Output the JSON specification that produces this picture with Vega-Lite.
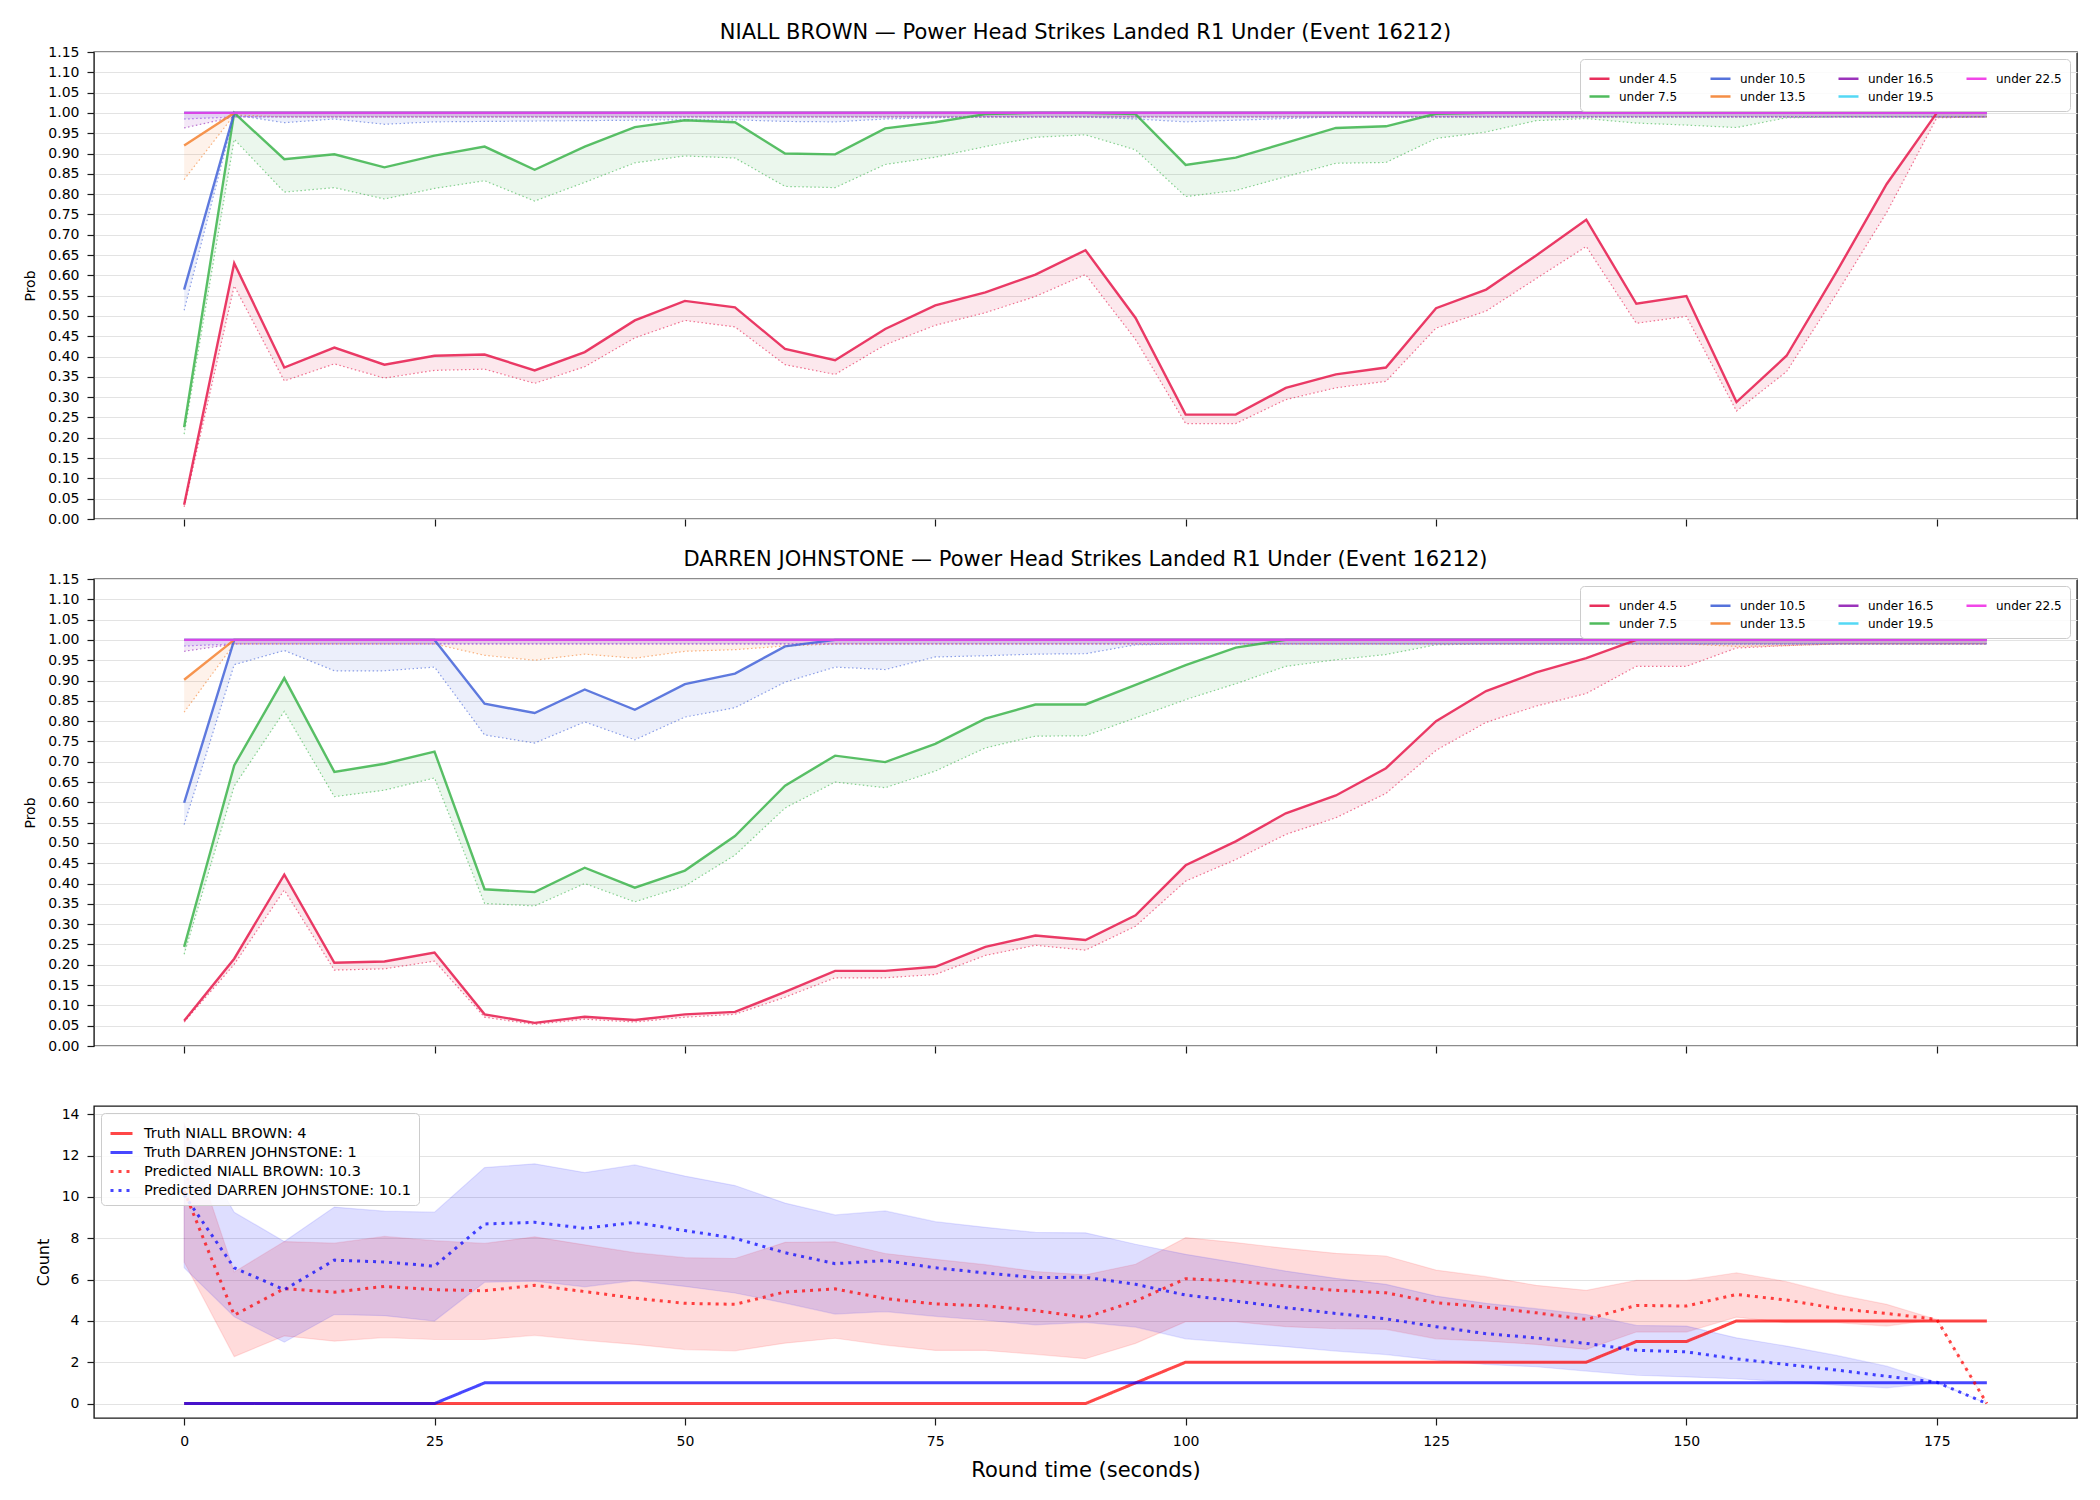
{
  "$schema": "https://vega.github.io/schema/vega-lite/v6.json",
  "background": "white",
  "padding": {"left": 23, "top": 21, "right": 10, "bottom": 10},
  "bounds": "flush",
  "spacing": 60,
  "resolve": {
    "scale": {"color": "independent", "strokeDash": "independent", "y": "independent", "x": "independent"},
    "legend": {"color": "independent", "strokeDash": "independent"}
  },
  "config": {
    "font": "DejaVu Sans",
    "view": {"stroke": "#1a1a1a", "strokeWidth": 1.4},
    "axis": {
      "domain": false,
      "tickColor": "#1a1a1a",
      "tickSize": 7,
      "tickWidth": 1.2,
      "labelColor": "#000000",
      "labelFont": "DejaVu Sans",
      "labelFontSize": 14,
      "labelFlush": false,
      "labelOverlap": false,
      "labelBound": false,
      "titleFont": "DejaVu Sans",
      "titleFontWeight": "normal",
      "titleColor": "#000000",
      "gridColor": "#e3e3e3",
      "gridWidth": 1
    },
    "title": {"font": "DejaVu Sans", "fontSize": 21, "fontWeight": "normal", "color": "#000000", "anchor": "middle", "frame": "group", "baseline": "alphabetic", "offset": 2},
    "legend": {"labelFont": "DejaVu Sans", "labelColor": "#000000", "title": null}
  },
  "datasets": {
    "probs": [
      {"p":"NB","k":"under 4.5","t":0,"hi":0.035,"lo":0.03},
      {"p":"NB","k":"under 4.5","t":5,"hi":0.63,"lo":0.574},
      {"p":"NB","k":"under 4.5","t":10,"hi":0.373,"lo":0.34},
      {"p":"NB","k":"under 4.5","t":15,"hi":0.422,"lo":0.382},
      {"p":"NB","k":"under 4.5","t":20,"hi":0.38,"lo":0.347},
      {"p":"NB","k":"under 4.5","t":25,"hi":0.402,"lo":0.366},
      {"p":"NB","k":"under 4.5","t":30,"hi":0.405,"lo":0.369},
      {"p":"NB","k":"under 4.5","t":35,"hi":0.366,"lo":0.334},
      {"p":"NB","k":"under 4.5","t":40,"hi":0.411,"lo":0.375},
      {"p":"NB","k":"under 4.5","t":45,"hi":0.489,"lo":0.446},
      {"p":"NB","k":"under 4.5","t":50,"hi":0.537,"lo":0.489},
      {"p":"NB","k":"under 4.5","t":55,"hi":0.521,"lo":0.473},
      {"p":"NB","k":"under 4.5","t":60,"hi":0.419,"lo":0.38},
      {"p":"NB","k":"under 4.5","t":65,"hi":0.391,"lo":0.356},
      {"p":"NB","k":"under 4.5","t":70,"hi":0.468,"lo":0.429},
      {"p":"NB","k":"under 4.5","t":75,"hi":0.526,"lo":0.477},
      {"p":"NB","k":"under 4.5","t":80,"hi":0.558,"lo":0.508},
      {"p":"NB","k":"under 4.5","t":85,"hi":0.602,"lo":0.548},
      {"p":"NB","k":"under 4.5","t":90,"hi":0.662,"lo":0.602},
      {"p":"NB","k":"under 4.5","t":95,"hi":0.495,"lo":0.442},
      {"p":"NB","k":"under 4.5","t":100,"hi":0.257,"lo":0.235},
      {"p":"NB","k":"under 4.5","t":105,"hi":0.257,"lo":0.235},
      {"p":"NB","k":"under 4.5","t":110,"hi":0.323,"lo":0.294},
      {"p":"NB","k":"under 4.5","t":115,"hi":0.356,"lo":0.323},
      {"p":"NB","k":"under 4.5","t":120,"hi":0.373,"lo":0.339},
      {"p":"NB","k":"under 4.5","t":125,"hi":0.519,"lo":0.47},
      {"p":"NB","k":"under 4.5","t":130,"hi":0.565,"lo":0.512},
      {"p":"NB","k":"under 4.5","t":135,"hi":0.649,"lo":0.592},
      {"p":"NB","k":"under 4.5","t":140,"hi":0.737,"lo":0.671},
      {"p":"NB","k":"under 4.5","t":145,"hi":0.53,"lo":0.482},
      {"p":"NB","k":"under 4.5","t":150,"hi":0.549,"lo":0.499},
      {"p":"NB","k":"under 4.5","t":155,"hi":0.288,"lo":0.266},
      {"p":"NB","k":"under 4.5","t":160,"hi":0.402,"lo":0.363},
      {"p":"NB","k":"under 4.5","t":165,"hi":0.609,"lo":0.555},
      {"p":"NB","k":"under 4.5","t":170,"hi":0.825,"lo":0.755},
      {"p":"NB","k":"under 4.5","t":175,"hi":1,"lo":0.988},
      {"p":"NB","k":"under 4.5","t":180,"hi":1,"lo":0.99},
      {"p":"NB","k":"under 7.5","t":0,"hi":0.226,"lo":0.209},
      {"p":"NB","k":"under 7.5","t":5,"hi":1,"lo":0.935},
      {"p":"NB","k":"under 7.5","t":10,"hi":0.886,"lo":0.805},
      {"p":"NB","k":"under 7.5","t":15,"hi":0.898,"lo":0.816},
      {"p":"NB","k":"under 7.5","t":20,"hi":0.866,"lo":0.788},
      {"p":"NB","k":"under 7.5","t":25,"hi":0.895,"lo":0.814},
      {"p":"NB","k":"under 7.5","t":30,"hi":0.917,"lo":0.833},
      {"p":"NB","k":"under 7.5","t":35,"hi":0.86,"lo":0.783},
      {"p":"NB","k":"under 7.5","t":40,"hi":0.917,"lo":0.829},
      {"p":"NB","k":"under 7.5","t":45,"hi":0.965,"lo":0.877},
      {"p":"NB","k":"under 7.5","t":50,"hi":0.982,"lo":0.894},
      {"p":"NB","k":"under 7.5","t":55,"hi":0.977,"lo":0.889},
      {"p":"NB","k":"under 7.5","t":60,"hi":0.9,"lo":0.819},
      {"p":"NB","k":"under 7.5","t":65,"hi":0.898,"lo":0.816},
      {"p":"NB","k":"under 7.5","t":70,"hi":0.962,"lo":0.873},
      {"p":"NB","k":"under 7.5","t":75,"hi":0.977,"lo":0.891},
      {"p":"NB","k":"under 7.5","t":80,"hi":0.997,"lo":0.917},
      {"p":"NB","k":"under 7.5","t":85,"hi":1,"lo":0.94},
      {"p":"NB","k":"under 7.5","t":90,"hi":1,"lo":0.946},
      {"p":"NB","k":"under 7.5","t":95,"hi":0.997,"lo":0.909},
      {"p":"NB","k":"under 7.5","t":100,"hi":0.872,"lo":0.794},
      {"p":"NB","k":"under 7.5","t":105,"hi":0.89,"lo":0.809},
      {"p":"NB","k":"under 7.5","t":110,"hi":0.926,"lo":0.843},
      {"p":"NB","k":"under 7.5","t":115,"hi":0.963,"lo":0.876},
      {"p":"NB","k":"under 7.5","t":120,"hi":0.967,"lo":0.878},
      {"p":"NB","k":"under 7.5","t":125,"hi":0.998,"lo":0.937},
      {"p":"NB","k":"under 7.5","t":130,"hi":1,"lo":0.953},
      {"p":"NB","k":"under 7.5","t":135,"hi":1,"lo":0.981},
      {"p":"NB","k":"under 7.5","t":140,"hi":1,"lo":0.986},
      {"p":"NB","k":"under 7.5","t":145,"hi":1,"lo":0.975},
      {"p":"NB","k":"under 7.5","t":150,"hi":1,"lo":0.97},
      {"p":"NB","k":"under 7.5","t":155,"hi":1,"lo":0.964},
      {"p":"NB","k":"under 7.5","t":160,"hi":1,"lo":0.988},
      {"p":"NB","k":"under 7.5","t":165,"hi":1,"lo":0.99},
      {"p":"NB","k":"under 7.5","t":170,"hi":1,"lo":0.99},
      {"p":"NB","k":"under 7.5","t":175,"hi":1,"lo":0.99},
      {"p":"NB","k":"under 7.5","t":180,"hi":1,"lo":0.99},
      {"p":"NB","k":"under 10.5","t":0,"hi":0.565,"lo":0.514},
      {"p":"NB","k":"under 10.5","t":5,"hi":1,"lo":0.995},
      {"p":"NB","k":"under 10.5","t":10,"hi":1,"lo":0.976},
      {"p":"NB","k":"under 10.5","t":15,"hi":1,"lo":0.985},
      {"p":"NB","k":"under 10.5","t":20,"hi":1,"lo":0.972},
      {"p":"NB","k":"under 10.5","t":25,"hi":1,"lo":0.978},
      {"p":"NB","k":"under 10.5","t":30,"hi":1,"lo":0.979},
      {"p":"NB","k":"under 10.5","t":35,"hi":1,"lo":0.98},
      {"p":"NB","k":"under 10.5","t":40,"hi":1,"lo":0.981},
      {"p":"NB","k":"under 10.5","t":45,"hi":1,"lo":0.982},
      {"p":"NB","k":"under 10.5","t":50,"hi":1,"lo":0.983},
      {"p":"NB","k":"under 10.5","t":55,"hi":1,"lo":0.983},
      {"p":"NB","k":"under 10.5","t":60,"hi":1,"lo":0.979},
      {"p":"NB","k":"under 10.5","t":65,"hi":1,"lo":0.978},
      {"p":"NB","k":"under 10.5","t":70,"hi":1,"lo":0.985},
      {"p":"NB","k":"under 10.5","t":75,"hi":1,"lo":0.988},
      {"p":"NB","k":"under 10.5","t":80,"hi":1,"lo":0.99},
      {"p":"NB","k":"under 10.5","t":85,"hi":1,"lo":0.99},
      {"p":"NB","k":"under 10.5","t":90,"hi":1,"lo":0.99},
      {"p":"NB","k":"under 10.5","t":95,"hi":1,"lo":0.985},
      {"p":"NB","k":"under 10.5","t":100,"hi":1,"lo":0.978},
      {"p":"NB","k":"under 10.5","t":105,"hi":1,"lo":0.982},
      {"p":"NB","k":"under 10.5","t":110,"hi":1,"lo":0.986},
      {"p":"NB","k":"under 10.5","t":115,"hi":1,"lo":0.99},
      {"p":"NB","k":"under 10.5","t":120,"hi":1,"lo":0.99},
      {"p":"NB","k":"under 10.5","t":125,"hi":1,"lo":0.99},
      {"p":"NB","k":"under 10.5","t":130,"hi":1,"lo":0.99},
      {"p":"NB","k":"under 10.5","t":135,"hi":1,"lo":0.99},
      {"p":"NB","k":"under 10.5","t":140,"hi":1,"lo":0.99},
      {"p":"NB","k":"under 10.5","t":145,"hi":1,"lo":0.99},
      {"p":"NB","k":"under 10.5","t":150,"hi":1,"lo":0.99},
      {"p":"NB","k":"under 10.5","t":155,"hi":1,"lo":0.99},
      {"p":"NB","k":"under 10.5","t":160,"hi":1,"lo":0.99},
      {"p":"NB","k":"under 10.5","t":165,"hi":1,"lo":0.99},
      {"p":"NB","k":"under 10.5","t":170,"hi":1,"lo":0.99},
      {"p":"NB","k":"under 10.5","t":175,"hi":1,"lo":0.99},
      {"p":"NB","k":"under 10.5","t":180,"hi":1,"lo":0.99},
      {"p":"NB","k":"under 13.5","t":0,"hi":0.92,"lo":0.836},
      {"p":"NB","k":"under 13.5","t":5,"hi":1,"lo":0.995},
      {"p":"NB","k":"under 13.5","t":10,"hi":1,"lo":0.99},
      {"p":"NB","k":"under 13.5","t":15,"hi":1,"lo":0.99},
      {"p":"NB","k":"under 13.5","t":20,"hi":1,"lo":0.99},
      {"p":"NB","k":"under 13.5","t":25,"hi":1,"lo":0.99},
      {"p":"NB","k":"under 13.5","t":30,"hi":1,"lo":0.99},
      {"p":"NB","k":"under 13.5","t":35,"hi":1,"lo":0.99},
      {"p":"NB","k":"under 13.5","t":40,"hi":1,"lo":0.99},
      {"p":"NB","k":"under 13.5","t":45,"hi":1,"lo":0.99},
      {"p":"NB","k":"under 13.5","t":50,"hi":1,"lo":0.99},
      {"p":"NB","k":"under 13.5","t":55,"hi":1,"lo":0.99},
      {"p":"NB","k":"under 13.5","t":60,"hi":1,"lo":0.99},
      {"p":"NB","k":"under 13.5","t":65,"hi":1,"lo":0.99},
      {"p":"NB","k":"under 13.5","t":70,"hi":1,"lo":0.99},
      {"p":"NB","k":"under 13.5","t":75,"hi":1,"lo":0.99},
      {"p":"NB","k":"under 13.5","t":80,"hi":1,"lo":0.99},
      {"p":"NB","k":"under 13.5","t":85,"hi":1,"lo":0.99},
      {"p":"NB","k":"under 13.5","t":90,"hi":1,"lo":0.99},
      {"p":"NB","k":"under 13.5","t":95,"hi":1,"lo":0.99},
      {"p":"NB","k":"under 13.5","t":100,"hi":1,"lo":0.99},
      {"p":"NB","k":"under 13.5","t":105,"hi":1,"lo":0.99},
      {"p":"NB","k":"under 13.5","t":110,"hi":1,"lo":0.99},
      {"p":"NB","k":"under 13.5","t":115,"hi":1,"lo":0.99},
      {"p":"NB","k":"under 13.5","t":120,"hi":1,"lo":0.99},
      {"p":"NB","k":"under 13.5","t":125,"hi":1,"lo":0.99},
      {"p":"NB","k":"under 13.5","t":130,"hi":1,"lo":0.99},
      {"p":"NB","k":"under 13.5","t":135,"hi":1,"lo":0.99},
      {"p":"NB","k":"under 13.5","t":140,"hi":1,"lo":0.99},
      {"p":"NB","k":"under 13.5","t":145,"hi":1,"lo":0.99},
      {"p":"NB","k":"under 13.5","t":150,"hi":1,"lo":0.99},
      {"p":"NB","k":"under 13.5","t":155,"hi":1,"lo":0.99},
      {"p":"NB","k":"under 13.5","t":160,"hi":1,"lo":0.99},
      {"p":"NB","k":"under 13.5","t":165,"hi":1,"lo":0.99},
      {"p":"NB","k":"under 13.5","t":170,"hi":1,"lo":0.99},
      {"p":"NB","k":"under 13.5","t":175,"hi":1,"lo":0.99},
      {"p":"NB","k":"under 13.5","t":180,"hi":1,"lo":0.99},
      {"p":"NB","k":"under 16.5","t":0,"hi":1,"lo":0.963},
      {"p":"NB","k":"under 16.5","t":5,"hi":1,"lo":0.99},
      {"p":"NB","k":"under 16.5","t":10,"hi":1,"lo":0.99},
      {"p":"NB","k":"under 16.5","t":15,"hi":1,"lo":0.99},
      {"p":"NB","k":"under 16.5","t":20,"hi":1,"lo":0.99},
      {"p":"NB","k":"under 16.5","t":25,"hi":1,"lo":0.99},
      {"p":"NB","k":"under 16.5","t":30,"hi":1,"lo":0.99},
      {"p":"NB","k":"under 16.5","t":35,"hi":1,"lo":0.99},
      {"p":"NB","k":"under 16.5","t":40,"hi":1,"lo":0.99},
      {"p":"NB","k":"under 16.5","t":45,"hi":1,"lo":0.99},
      {"p":"NB","k":"under 16.5","t":50,"hi":1,"lo":0.99},
      {"p":"NB","k":"under 16.5","t":55,"hi":1,"lo":0.99},
      {"p":"NB","k":"under 16.5","t":60,"hi":1,"lo":0.99},
      {"p":"NB","k":"under 16.5","t":65,"hi":1,"lo":0.99},
      {"p":"NB","k":"under 16.5","t":70,"hi":1,"lo":0.99},
      {"p":"NB","k":"under 16.5","t":75,"hi":1,"lo":0.99},
      {"p":"NB","k":"under 16.5","t":80,"hi":1,"lo":0.99},
      {"p":"NB","k":"under 16.5","t":85,"hi":1,"lo":0.99},
      {"p":"NB","k":"under 16.5","t":90,"hi":1,"lo":0.99},
      {"p":"NB","k":"under 16.5","t":95,"hi":1,"lo":0.99},
      {"p":"NB","k":"under 16.5","t":100,"hi":1,"lo":0.99},
      {"p":"NB","k":"under 16.5","t":105,"hi":1,"lo":0.99},
      {"p":"NB","k":"under 16.5","t":110,"hi":1,"lo":0.99},
      {"p":"NB","k":"under 16.5","t":115,"hi":1,"lo":0.99},
      {"p":"NB","k":"under 16.5","t":120,"hi":1,"lo":0.99},
      {"p":"NB","k":"under 16.5","t":125,"hi":1,"lo":0.99},
      {"p":"NB","k":"under 16.5","t":130,"hi":1,"lo":0.99},
      {"p":"NB","k":"under 16.5","t":135,"hi":1,"lo":0.99},
      {"p":"NB","k":"under 16.5","t":140,"hi":1,"lo":0.99},
      {"p":"NB","k":"under 16.5","t":145,"hi":1,"lo":0.99},
      {"p":"NB","k":"under 16.5","t":150,"hi":1,"lo":0.99},
      {"p":"NB","k":"under 16.5","t":155,"hi":1,"lo":0.99},
      {"p":"NB","k":"under 16.5","t":160,"hi":1,"lo":0.99},
      {"p":"NB","k":"under 16.5","t":165,"hi":1,"lo":0.99},
      {"p":"NB","k":"under 16.5","t":170,"hi":1,"lo":0.99},
      {"p":"NB","k":"under 16.5","t":175,"hi":1,"lo":0.99},
      {"p":"NB","k":"under 16.5","t":180,"hi":1,"lo":0.99},
      {"p":"NB","k":"under 19.5","t":0,"hi":1,"lo":0.985},
      {"p":"NB","k":"under 19.5","t":5,"hi":1,"lo":0.99},
      {"p":"NB","k":"under 19.5","t":10,"hi":1,"lo":0.99},
      {"p":"NB","k":"under 19.5","t":15,"hi":1,"lo":0.99},
      {"p":"NB","k":"under 19.5","t":20,"hi":1,"lo":0.99},
      {"p":"NB","k":"under 19.5","t":25,"hi":1,"lo":0.99},
      {"p":"NB","k":"under 19.5","t":30,"hi":1,"lo":0.99},
      {"p":"NB","k":"under 19.5","t":35,"hi":1,"lo":0.99},
      {"p":"NB","k":"under 19.5","t":40,"hi":1,"lo":0.99},
      {"p":"NB","k":"under 19.5","t":45,"hi":1,"lo":0.99},
      {"p":"NB","k":"under 19.5","t":50,"hi":1,"lo":0.99},
      {"p":"NB","k":"under 19.5","t":55,"hi":1,"lo":0.99},
      {"p":"NB","k":"under 19.5","t":60,"hi":1,"lo":0.99},
      {"p":"NB","k":"under 19.5","t":65,"hi":1,"lo":0.99},
      {"p":"NB","k":"under 19.5","t":70,"hi":1,"lo":0.99},
      {"p":"NB","k":"under 19.5","t":75,"hi":1,"lo":0.99},
      {"p":"NB","k":"under 19.5","t":80,"hi":1,"lo":0.99},
      {"p":"NB","k":"under 19.5","t":85,"hi":1,"lo":0.99},
      {"p":"NB","k":"under 19.5","t":90,"hi":1,"lo":0.99},
      {"p":"NB","k":"under 19.5","t":95,"hi":1,"lo":0.99},
      {"p":"NB","k":"under 19.5","t":100,"hi":1,"lo":0.99},
      {"p":"NB","k":"under 19.5","t":105,"hi":1,"lo":0.99},
      {"p":"NB","k":"under 19.5","t":110,"hi":1,"lo":0.99},
      {"p":"NB","k":"under 19.5","t":115,"hi":1,"lo":0.99},
      {"p":"NB","k":"under 19.5","t":120,"hi":1,"lo":0.99},
      {"p":"NB","k":"under 19.5","t":125,"hi":1,"lo":0.99},
      {"p":"NB","k":"under 19.5","t":130,"hi":1,"lo":0.99},
      {"p":"NB","k":"under 19.5","t":135,"hi":1,"lo":0.99},
      {"p":"NB","k":"under 19.5","t":140,"hi":1,"lo":0.99},
      {"p":"NB","k":"under 19.5","t":145,"hi":1,"lo":0.99},
      {"p":"NB","k":"under 19.5","t":150,"hi":1,"lo":0.99},
      {"p":"NB","k":"under 19.5","t":155,"hi":1,"lo":0.99},
      {"p":"NB","k":"under 19.5","t":160,"hi":1,"lo":0.99},
      {"p":"NB","k":"under 19.5","t":165,"hi":1,"lo":0.99},
      {"p":"NB","k":"under 19.5","t":170,"hi":1,"lo":0.99},
      {"p":"NB","k":"under 19.5","t":175,"hi":1,"lo":0.99},
      {"p":"NB","k":"under 19.5","t":180,"hi":1,"lo":0.99},
      {"p":"NB","k":"under 22.5","t":0,"hi":1,"lo":0.985},
      {"p":"NB","k":"under 22.5","t":5,"hi":1,"lo":0.99},
      {"p":"NB","k":"under 22.5","t":10,"hi":1,"lo":0.99},
      {"p":"NB","k":"under 22.5","t":15,"hi":1,"lo":0.99},
      {"p":"NB","k":"under 22.5","t":20,"hi":1,"lo":0.99},
      {"p":"NB","k":"under 22.5","t":25,"hi":1,"lo":0.99},
      {"p":"NB","k":"under 22.5","t":30,"hi":1,"lo":0.99},
      {"p":"NB","k":"under 22.5","t":35,"hi":1,"lo":0.99},
      {"p":"NB","k":"under 22.5","t":40,"hi":1,"lo":0.99},
      {"p":"NB","k":"under 22.5","t":45,"hi":1,"lo":0.99},
      {"p":"NB","k":"under 22.5","t":50,"hi":1,"lo":0.99},
      {"p":"NB","k":"under 22.5","t":55,"hi":1,"lo":0.99},
      {"p":"NB","k":"under 22.5","t":60,"hi":1,"lo":0.99},
      {"p":"NB","k":"under 22.5","t":65,"hi":1,"lo":0.99},
      {"p":"NB","k":"under 22.5","t":70,"hi":1,"lo":0.99},
      {"p":"NB","k":"under 22.5","t":75,"hi":1,"lo":0.99},
      {"p":"NB","k":"under 22.5","t":80,"hi":1,"lo":0.99},
      {"p":"NB","k":"under 22.5","t":85,"hi":1,"lo":0.99},
      {"p":"NB","k":"under 22.5","t":90,"hi":1,"lo":0.99},
      {"p":"NB","k":"under 22.5","t":95,"hi":1,"lo":0.99},
      {"p":"NB","k":"under 22.5","t":100,"hi":1,"lo":0.99},
      {"p":"NB","k":"under 22.5","t":105,"hi":1,"lo":0.99},
      {"p":"NB","k":"under 22.5","t":110,"hi":1,"lo":0.99},
      {"p":"NB","k":"under 22.5","t":115,"hi":1,"lo":0.99},
      {"p":"NB","k":"under 22.5","t":120,"hi":1,"lo":0.99},
      {"p":"NB","k":"under 22.5","t":125,"hi":1,"lo":0.99},
      {"p":"NB","k":"under 22.5","t":130,"hi":1,"lo":0.99},
      {"p":"NB","k":"under 22.5","t":135,"hi":1,"lo":0.99},
      {"p":"NB","k":"under 22.5","t":140,"hi":1,"lo":0.99},
      {"p":"NB","k":"under 22.5","t":145,"hi":1,"lo":0.99},
      {"p":"NB","k":"under 22.5","t":150,"hi":1,"lo":0.99},
      {"p":"NB","k":"under 22.5","t":155,"hi":1,"lo":0.99},
      {"p":"NB","k":"under 22.5","t":160,"hi":1,"lo":0.99},
      {"p":"NB","k":"under 22.5","t":165,"hi":1,"lo":0.99},
      {"p":"NB","k":"under 22.5","t":170,"hi":1,"lo":0.99},
      {"p":"NB","k":"under 22.5","t":175,"hi":1,"lo":0.99},
      {"p":"NB","k":"under 22.5","t":180,"hi":1,"lo":0.99},

      {"p":"DJ","k":"under 4.5","t":0,"hi":0.062,"lo":0.059},
      {"p":"DJ","k":"under 4.5","t":5,"hi":0.215,"lo":0.201},
      {"p":"DJ","k":"under 4.5","t":10,"hi":0.422,"lo":0.384},
      {"p":"DJ","k":"under 4.5","t":15,"hi":0.205,"lo":0.187},
      {"p":"DJ","k":"under 4.5","t":20,"hi":0.208,"lo":0.19},
      {"p":"DJ","k":"under 4.5","t":25,"hi":0.23,"lo":0.209},
      {"p":"DJ","k":"under 4.5","t":30,"hi":0.078,"lo":0.071},
      {"p":"DJ","k":"under 4.5","t":35,"hi":0.057,"lo":0.053},
      {"p":"DJ","k":"under 4.5","t":40,"hi":0.072,"lo":0.066},
      {"p":"DJ","k":"under 4.5","t":45,"hi":0.064,"lo":0.059},
      {"p":"DJ","k":"under 4.5","t":50,"hi":0.078,"lo":0.071},
      {"p":"DJ","k":"under 4.5","t":55,"hi":0.084,"lo":0.078},
      {"p":"DJ","k":"under 4.5","t":60,"hi":0.133,"lo":0.12},
      {"p":"DJ","k":"under 4.5","t":65,"hi":0.185,"lo":0.168},
      {"p":"DJ","k":"under 4.5","t":70,"hi":0.185,"lo":0.168},
      {"p":"DJ","k":"under 4.5","t":75,"hi":0.195,"lo":0.176},
      {"p":"DJ","k":"under 4.5","t":80,"hi":0.244,"lo":0.223},
      {"p":"DJ","k":"under 4.5","t":85,"hi":0.272,"lo":0.248},
      {"p":"DJ","k":"under 4.5","t":90,"hi":0.261,"lo":0.236},
      {"p":"DJ","k":"under 4.5","t":95,"hi":0.322,"lo":0.295},
      {"p":"DJ","k":"under 4.5","t":100,"hi":0.445,"lo":0.406},
      {"p":"DJ","k":"under 4.5","t":105,"hi":0.504,"lo":0.459},
      {"p":"DJ","k":"under 4.5","t":110,"hi":0.573,"lo":0.521},
      {"p":"DJ","k":"under 4.5","t":115,"hi":0.617,"lo":0.562},
      {"p":"DJ","k":"under 4.5","t":120,"hi":0.684,"lo":0.622},
      {"p":"DJ","k":"under 4.5","t":125,"hi":0.8,"lo":0.728},
      {"p":"DJ","k":"under 4.5","t":130,"hi":0.874,"lo":0.797},
      {"p":"DJ","k":"under 4.5","t":135,"hi":0.92,"lo":0.837},
      {"p":"DJ","k":"under 4.5","t":140,"hi":0.955,"lo":0.868},
      {"p":"DJ","k":"under 4.5","t":145,"hi":1,"lo":0.935},
      {"p":"DJ","k":"under 4.5","t":150,"hi":1,"lo":0.935},
      {"p":"DJ","k":"under 4.5","t":155,"hi":1,"lo":0.98},
      {"p":"DJ","k":"under 4.5","t":160,"hi":1,"lo":0.986},
      {"p":"DJ","k":"under 4.5","t":165,"hi":1,"lo":0.99},
      {"p":"DJ","k":"under 4.5","t":170,"hi":1,"lo":0.99},
      {"p":"DJ","k":"under 4.5","t":175,"hi":1,"lo":0.99},
      {"p":"DJ","k":"under 4.5","t":180,"hi":1,"lo":0.99},
      {"p":"DJ","k":"under 7.5","t":0,"hi":0.244,"lo":0.226},
      {"p":"DJ","k":"under 7.5","t":5,"hi":0.691,"lo":0.64},
      {"p":"DJ","k":"under 7.5","t":10,"hi":0.906,"lo":0.824},
      {"p":"DJ","k":"under 7.5","t":15,"hi":0.675,"lo":0.614},
      {"p":"DJ","k":"under 7.5","t":20,"hi":0.695,"lo":0.63},
      {"p":"DJ","k":"under 7.5","t":25,"hi":0.725,"lo":0.66},
      {"p":"DJ","k":"under 7.5","t":30,"hi":0.386,"lo":0.351},
      {"p":"DJ","k":"under 7.5","t":35,"hi":0.379,"lo":0.345},
      {"p":"DJ","k":"under 7.5","t":40,"hi":0.439,"lo":0.4},
      {"p":"DJ","k":"under 7.5","t":45,"hi":0.39,"lo":0.355},
      {"p":"DJ","k":"under 7.5","t":50,"hi":0.432,"lo":0.394},
      {"p":"DJ","k":"under 7.5","t":55,"hi":0.517,"lo":0.47},
      {"p":"DJ","k":"under 7.5","t":60,"hi":0.641,"lo":0.586},
      {"p":"DJ","k":"under 7.5","t":65,"hi":0.715,"lo":0.65},
      {"p":"DJ","k":"under 7.5","t":70,"hi":0.699,"lo":0.636},
      {"p":"DJ","k":"under 7.5","t":75,"hi":0.744,"lo":0.677},
      {"p":"DJ","k":"under 7.5","t":80,"hi":0.806,"lo":0.734},
      {"p":"DJ","k":"under 7.5","t":85,"hi":0.841,"lo":0.763},
      {"p":"DJ","k":"under 7.5","t":90,"hi":0.841,"lo":0.764},
      {"p":"DJ","k":"under 7.5","t":95,"hi":0.889,"lo":0.808},
      {"p":"DJ","k":"under 7.5","t":100,"hi":0.938,"lo":0.853},
      {"p":"DJ","k":"under 7.5","t":105,"hi":0.981,"lo":0.892},
      {"p":"DJ","k":"under 7.5","t":110,"hi":1,"lo":0.935},
      {"p":"DJ","k":"under 7.5","t":115,"hi":1,"lo":0.951},
      {"p":"DJ","k":"under 7.5","t":120,"hi":1,"lo":0.964},
      {"p":"DJ","k":"under 7.5","t":125,"hi":1,"lo":0.988},
      {"p":"DJ","k":"under 7.5","t":130,"hi":1,"lo":0.99},
      {"p":"DJ","k":"under 7.5","t":135,"hi":1,"lo":0.99},
      {"p":"DJ","k":"under 7.5","t":140,"hi":1,"lo":0.99},
      {"p":"DJ","k":"under 7.5","t":145,"hi":1,"lo":0.99},
      {"p":"DJ","k":"under 7.5","t":150,"hi":1,"lo":0.99},
      {"p":"DJ","k":"under 7.5","t":155,"hi":1,"lo":0.99},
      {"p":"DJ","k":"under 7.5","t":160,"hi":1,"lo":0.99},
      {"p":"DJ","k":"under 7.5","t":165,"hi":1,"lo":0.99},
      {"p":"DJ","k":"under 7.5","t":170,"hi":1,"lo":0.99},
      {"p":"DJ","k":"under 7.5","t":175,"hi":1,"lo":0.99},
      {"p":"DJ","k":"under 7.5","t":180,"hi":1,"lo":0.99},
      {"p":"DJ","k":"under 10.5","t":0,"hi":0.599,"lo":0.545},
      {"p":"DJ","k":"under 10.5","t":5,"hi":1,"lo":0.939},
      {"p":"DJ","k":"under 10.5","t":10,"hi":1,"lo":0.974},
      {"p":"DJ","k":"under 10.5","t":15,"hi":1,"lo":0.924},
      {"p":"DJ","k":"under 10.5","t":20,"hi":1,"lo":0.924},
      {"p":"DJ","k":"under 10.5","t":25,"hi":1,"lo":0.933},
      {"p":"DJ","k":"under 10.5","t":30,"hi":0.843,"lo":0.766},
      {"p":"DJ","k":"under 10.5","t":35,"hi":0.82,"lo":0.746},
      {"p":"DJ","k":"under 10.5","t":40,"hi":0.878,"lo":0.798},
      {"p":"DJ","k":"under 10.5","t":45,"hi":0.828,"lo":0.754},
      {"p":"DJ","k":"under 10.5","t":50,"hi":0.891,"lo":0.81},
      {"p":"DJ","k":"under 10.5","t":55,"hi":0.917,"lo":0.833},
      {"p":"DJ","k":"under 10.5","t":60,"hi":0.984,"lo":0.896},
      {"p":"DJ","k":"under 10.5","t":65,"hi":1,"lo":0.933},
      {"p":"DJ","k":"under 10.5","t":70,"hi":1,"lo":0.927},
      {"p":"DJ","k":"under 10.5","t":75,"hi":1,"lo":0.958},
      {"p":"DJ","k":"under 10.5","t":80,"hi":1,"lo":0.961},
      {"p":"DJ","k":"under 10.5","t":85,"hi":1,"lo":0.965},
      {"p":"DJ","k":"under 10.5","t":90,"hi":1,"lo":0.966},
      {"p":"DJ","k":"under 10.5","t":95,"hi":1,"lo":0.988},
      {"p":"DJ","k":"under 10.5","t":100,"hi":1,"lo":0.99},
      {"p":"DJ","k":"under 10.5","t":105,"hi":1,"lo":0.99},
      {"p":"DJ","k":"under 10.5","t":110,"hi":1,"lo":0.99},
      {"p":"DJ","k":"under 10.5","t":115,"hi":1,"lo":0.99},
      {"p":"DJ","k":"under 10.5","t":120,"hi":1,"lo":0.99},
      {"p":"DJ","k":"under 10.5","t":125,"hi":1,"lo":0.99},
      {"p":"DJ","k":"under 10.5","t":130,"hi":1,"lo":0.99},
      {"p":"DJ","k":"under 10.5","t":135,"hi":1,"lo":0.99},
      {"p":"DJ","k":"under 10.5","t":140,"hi":1,"lo":0.99},
      {"p":"DJ","k":"under 10.5","t":145,"hi":1,"lo":0.99},
      {"p":"DJ","k":"under 10.5","t":150,"hi":1,"lo":0.99},
      {"p":"DJ","k":"under 10.5","t":155,"hi":1,"lo":0.99},
      {"p":"DJ","k":"under 10.5","t":160,"hi":1,"lo":0.99},
      {"p":"DJ","k":"under 10.5","t":165,"hi":1,"lo":0.99},
      {"p":"DJ","k":"under 10.5","t":170,"hi":1,"lo":0.99},
      {"p":"DJ","k":"under 10.5","t":175,"hi":1,"lo":0.99},
      {"p":"DJ","k":"under 10.5","t":180,"hi":1,"lo":0.99},
      {"p":"DJ","k":"under 13.5","t":0,"hi":0.902,"lo":0.822},
      {"p":"DJ","k":"under 13.5","t":5,"hi":1,"lo":0.99},
      {"p":"DJ","k":"under 13.5","t":10,"hi":1,"lo":0.99},
      {"p":"DJ","k":"under 13.5","t":15,"hi":1,"lo":0.99},
      {"p":"DJ","k":"under 13.5","t":20,"hi":1,"lo":0.99},
      {"p":"DJ","k":"under 13.5","t":25,"hi":1,"lo":0.99},
      {"p":"DJ","k":"under 13.5","t":30,"hi":1,"lo":0.962},
      {"p":"DJ","k":"under 13.5","t":35,"hi":1,"lo":0.95},
      {"p":"DJ","k":"under 13.5","t":40,"hi":1,"lo":0.965},
      {"p":"DJ","k":"under 13.5","t":45,"hi":1,"lo":0.955},
      {"p":"DJ","k":"under 13.5","t":50,"hi":1,"lo":0.972},
      {"p":"DJ","k":"under 13.5","t":55,"hi":1,"lo":0.976},
      {"p":"DJ","k":"under 13.5","t":60,"hi":1,"lo":0.985},
      {"p":"DJ","k":"under 13.5","t":65,"hi":1,"lo":0.99},
      {"p":"DJ","k":"under 13.5","t":70,"hi":1,"lo":0.99},
      {"p":"DJ","k":"under 13.5","t":75,"hi":1,"lo":0.99},
      {"p":"DJ","k":"under 13.5","t":80,"hi":1,"lo":0.99},
      {"p":"DJ","k":"under 13.5","t":85,"hi":1,"lo":0.99},
      {"p":"DJ","k":"under 13.5","t":90,"hi":1,"lo":0.99},
      {"p":"DJ","k":"under 13.5","t":95,"hi":1,"lo":0.99},
      {"p":"DJ","k":"under 13.5","t":100,"hi":1,"lo":0.99},
      {"p":"DJ","k":"under 13.5","t":105,"hi":1,"lo":0.99},
      {"p":"DJ","k":"under 13.5","t":110,"hi":1,"lo":0.99},
      {"p":"DJ","k":"under 13.5","t":115,"hi":1,"lo":0.99},
      {"p":"DJ","k":"under 13.5","t":120,"hi":1,"lo":0.99},
      {"p":"DJ","k":"under 13.5","t":125,"hi":1,"lo":0.99},
      {"p":"DJ","k":"under 13.5","t":130,"hi":1,"lo":0.99},
      {"p":"DJ","k":"under 13.5","t":135,"hi":1,"lo":0.99},
      {"p":"DJ","k":"under 13.5","t":140,"hi":1,"lo":0.99},
      {"p":"DJ","k":"under 13.5","t":145,"hi":1,"lo":0.99},
      {"p":"DJ","k":"under 13.5","t":150,"hi":1,"lo":0.99},
      {"p":"DJ","k":"under 13.5","t":155,"hi":1,"lo":0.984},
      {"p":"DJ","k":"under 13.5","t":160,"hi":1,"lo":0.986},
      {"p":"DJ","k":"under 13.5","t":165,"hi":1,"lo":0.99},
      {"p":"DJ","k":"under 13.5","t":170,"hi":1,"lo":0.99},
      {"p":"DJ","k":"under 13.5","t":175,"hi":1,"lo":0.99},
      {"p":"DJ","k":"under 13.5","t":180,"hi":1,"lo":0.99},
      {"p":"DJ","k":"under 16.5","t":0,"hi":1,"lo":0.972},
      {"p":"DJ","k":"under 16.5","t":5,"hi":1,"lo":0.99},
      {"p":"DJ","k":"under 16.5","t":10,"hi":1,"lo":0.99},
      {"p":"DJ","k":"under 16.5","t":15,"hi":1,"lo":0.99},
      {"p":"DJ","k":"under 16.5","t":20,"hi":1,"lo":0.99},
      {"p":"DJ","k":"under 16.5","t":25,"hi":1,"lo":0.99},
      {"p":"DJ","k":"under 16.5","t":30,"hi":1,"lo":0.99},
      {"p":"DJ","k":"under 16.5","t":35,"hi":1,"lo":0.99},
      {"p":"DJ","k":"under 16.5","t":40,"hi":1,"lo":0.99},
      {"p":"DJ","k":"under 16.5","t":45,"hi":1,"lo":0.99},
      {"p":"DJ","k":"under 16.5","t":50,"hi":1,"lo":0.99},
      {"p":"DJ","k":"under 16.5","t":55,"hi":1,"lo":0.99},
      {"p":"DJ","k":"under 16.5","t":60,"hi":1,"lo":0.99},
      {"p":"DJ","k":"under 16.5","t":65,"hi":1,"lo":0.99},
      {"p":"DJ","k":"under 16.5","t":70,"hi":1,"lo":0.99},
      {"p":"DJ","k":"under 16.5","t":75,"hi":1,"lo":0.99},
      {"p":"DJ","k":"under 16.5","t":80,"hi":1,"lo":0.99},
      {"p":"DJ","k":"under 16.5","t":85,"hi":1,"lo":0.99},
      {"p":"DJ","k":"under 16.5","t":90,"hi":1,"lo":0.99},
      {"p":"DJ","k":"under 16.5","t":95,"hi":1,"lo":0.99},
      {"p":"DJ","k":"under 16.5","t":100,"hi":1,"lo":0.99},
      {"p":"DJ","k":"under 16.5","t":105,"hi":1,"lo":0.99},
      {"p":"DJ","k":"under 16.5","t":110,"hi":1,"lo":0.99},
      {"p":"DJ","k":"under 16.5","t":115,"hi":1,"lo":0.99},
      {"p":"DJ","k":"under 16.5","t":120,"hi":1,"lo":0.99},
      {"p":"DJ","k":"under 16.5","t":125,"hi":1,"lo":0.99},
      {"p":"DJ","k":"under 16.5","t":130,"hi":1,"lo":0.99},
      {"p":"DJ","k":"under 16.5","t":135,"hi":1,"lo":0.99},
      {"p":"DJ","k":"under 16.5","t":140,"hi":1,"lo":0.99},
      {"p":"DJ","k":"under 16.5","t":145,"hi":1,"lo":0.99},
      {"p":"DJ","k":"under 16.5","t":150,"hi":1,"lo":0.99},
      {"p":"DJ","k":"under 16.5","t":155,"hi":1,"lo":0.99},
      {"p":"DJ","k":"under 16.5","t":160,"hi":1,"lo":0.99},
      {"p":"DJ","k":"under 16.5","t":165,"hi":1,"lo":0.99},
      {"p":"DJ","k":"under 16.5","t":170,"hi":1,"lo":0.99},
      {"p":"DJ","k":"under 16.5","t":175,"hi":1,"lo":0.99},
      {"p":"DJ","k":"under 16.5","t":180,"hi":1,"lo":0.99},
      {"p":"DJ","k":"under 19.5","t":0,"hi":1,"lo":0.985},
      {"p":"DJ","k":"under 19.5","t":5,"hi":1,"lo":0.99},
      {"p":"DJ","k":"under 19.5","t":10,"hi":1,"lo":0.99},
      {"p":"DJ","k":"under 19.5","t":15,"hi":1,"lo":0.99},
      {"p":"DJ","k":"under 19.5","t":20,"hi":1,"lo":0.99},
      {"p":"DJ","k":"under 19.5","t":25,"hi":1,"lo":0.99},
      {"p":"DJ","k":"under 19.5","t":30,"hi":1,"lo":0.99},
      {"p":"DJ","k":"under 19.5","t":35,"hi":1,"lo":0.99},
      {"p":"DJ","k":"under 19.5","t":40,"hi":1,"lo":0.99},
      {"p":"DJ","k":"under 19.5","t":45,"hi":1,"lo":0.99},
      {"p":"DJ","k":"under 19.5","t":50,"hi":1,"lo":0.99},
      {"p":"DJ","k":"under 19.5","t":55,"hi":1,"lo":0.99},
      {"p":"DJ","k":"under 19.5","t":60,"hi":1,"lo":0.99},
      {"p":"DJ","k":"under 19.5","t":65,"hi":1,"lo":0.99},
      {"p":"DJ","k":"under 19.5","t":70,"hi":1,"lo":0.99},
      {"p":"DJ","k":"under 19.5","t":75,"hi":1,"lo":0.99},
      {"p":"DJ","k":"under 19.5","t":80,"hi":1,"lo":0.99},
      {"p":"DJ","k":"under 19.5","t":85,"hi":1,"lo":0.99},
      {"p":"DJ","k":"under 19.5","t":90,"hi":1,"lo":0.99},
      {"p":"DJ","k":"under 19.5","t":95,"hi":1,"lo":0.99},
      {"p":"DJ","k":"under 19.5","t":100,"hi":1,"lo":0.99},
      {"p":"DJ","k":"under 19.5","t":105,"hi":1,"lo":0.99},
      {"p":"DJ","k":"under 19.5","t":110,"hi":1,"lo":0.99},
      {"p":"DJ","k":"under 19.5","t":115,"hi":1,"lo":0.99},
      {"p":"DJ","k":"under 19.5","t":120,"hi":1,"lo":0.99},
      {"p":"DJ","k":"under 19.5","t":125,"hi":1,"lo":0.99},
      {"p":"DJ","k":"under 19.5","t":130,"hi":1,"lo":0.99},
      {"p":"DJ","k":"under 19.5","t":135,"hi":1,"lo":0.99},
      {"p":"DJ","k":"under 19.5","t":140,"hi":1,"lo":0.99},
      {"p":"DJ","k":"under 19.5","t":145,"hi":1,"lo":0.99},
      {"p":"DJ","k":"under 19.5","t":150,"hi":1,"lo":0.99},
      {"p":"DJ","k":"under 19.5","t":155,"hi":1,"lo":0.99},
      {"p":"DJ","k":"under 19.5","t":160,"hi":1,"lo":0.99},
      {"p":"DJ","k":"under 19.5","t":165,"hi":1,"lo":0.99},
      {"p":"DJ","k":"under 19.5","t":170,"hi":1,"lo":0.99},
      {"p":"DJ","k":"under 19.5","t":175,"hi":1,"lo":0.99},
      {"p":"DJ","k":"under 19.5","t":180,"hi":1,"lo":0.99},
      {"p":"DJ","k":"under 22.5","t":0,"hi":1,"lo":0.985},
      {"p":"DJ","k":"under 22.5","t":5,"hi":1,"lo":0.99},
      {"p":"DJ","k":"under 22.5","t":10,"hi":1,"lo":0.99},
      {"p":"DJ","k":"under 22.5","t":15,"hi":1,"lo":0.99},
      {"p":"DJ","k":"under 22.5","t":20,"hi":1,"lo":0.99},
      {"p":"DJ","k":"under 22.5","t":25,"hi":1,"lo":0.99},
      {"p":"DJ","k":"under 22.5","t":30,"hi":1,"lo":0.99},
      {"p":"DJ","k":"under 22.5","t":35,"hi":1,"lo":0.99},
      {"p":"DJ","k":"under 22.5","t":40,"hi":1,"lo":0.99},
      {"p":"DJ","k":"under 22.5","t":45,"hi":1,"lo":0.99},
      {"p":"DJ","k":"under 22.5","t":50,"hi":1,"lo":0.99},
      {"p":"DJ","k":"under 22.5","t":55,"hi":1,"lo":0.99},
      {"p":"DJ","k":"under 22.5","t":60,"hi":1,"lo":0.99},
      {"p":"DJ","k":"under 22.5","t":65,"hi":1,"lo":0.99},
      {"p":"DJ","k":"under 22.5","t":70,"hi":1,"lo":0.99},
      {"p":"DJ","k":"under 22.5","t":75,"hi":1,"lo":0.99},
      {"p":"DJ","k":"under 22.5","t":80,"hi":1,"lo":0.99},
      {"p":"DJ","k":"under 22.5","t":85,"hi":1,"lo":0.99},
      {"p":"DJ","k":"under 22.5","t":90,"hi":1,"lo":0.99},
      {"p":"DJ","k":"under 22.5","t":95,"hi":1,"lo":0.99},
      {"p":"DJ","k":"under 22.5","t":100,"hi":1,"lo":0.99},
      {"p":"DJ","k":"under 22.5","t":105,"hi":1,"lo":0.99},
      {"p":"DJ","k":"under 22.5","t":110,"hi":1,"lo":0.99},
      {"p":"DJ","k":"under 22.5","t":115,"hi":1,"lo":0.99},
      {"p":"DJ","k":"under 22.5","t":120,"hi":1,"lo":0.99},
      {"p":"DJ","k":"under 22.5","t":125,"hi":1,"lo":0.99},
      {"p":"DJ","k":"under 22.5","t":130,"hi":1,"lo":0.99},
      {"p":"DJ","k":"under 22.5","t":135,"hi":1,"lo":0.99},
      {"p":"DJ","k":"under 22.5","t":140,"hi":1,"lo":0.99},
      {"p":"DJ","k":"under 22.5","t":145,"hi":1,"lo":0.99},
      {"p":"DJ","k":"under 22.5","t":150,"hi":1,"lo":0.99},
      {"p":"DJ","k":"under 22.5","t":155,"hi":1,"lo":0.99},
      {"p":"DJ","k":"under 22.5","t":160,"hi":1,"lo":0.99},
      {"p":"DJ","k":"under 22.5","t":165,"hi":1,"lo":0.99},
      {"p":"DJ","k":"under 22.5","t":170,"hi":1,"lo":0.99},
      {"p":"DJ","k":"under 22.5","t":175,"hi":1,"lo":0.99},
      {"p":"DJ","k":"under 22.5","t":180,"hi":1,"lo":0.99}
    ],
    "bands": [
      {"t":0,"nbHi":13.6,"nbLo":6.85,"djHi":13.5,"djLo":6.57},
      {"t":5,"nbHi":6.37,"nbLo":2.27,"djHi":9.26,"djLo":4.2},
      {"t":10,"nbHi":7.84,"nbLo":3.27,"djHi":7.84,"djLo":2.97},
      {"t":15,"nbHi":7.76,"nbLo":3.02,"djHi":9.51,"djLo":4.31},
      {"t":20,"nbHi":8.09,"nbLo":3.19,"djHi":9.31,"djLo":4.25},
      {"t":25,"nbHi":7.88,"nbLo":3.1,"djHi":9.26,"djLo":3.99},
      {"t":30,"nbHi":7.75,"nbLo":3.1,"djHi":11.42,"djLo":5.87},
      {"t":35,"nbHi":8.07,"nbLo":3.3,"djHi":11.6,"djLo":5.92},
      {"t":40,"nbHi":7.68,"nbLo":3.06,"djHi":11.18,"djLo":5.65},
      {"t":45,"nbHi":7.3,"nbLo":2.86,"djHi":11.55,"djLo":5.95},
      {"t":50,"nbHi":7.06,"nbLo":2.61,"djHi":11.01,"djLo":5.67},
      {"t":55,"nbHi":7.02,"nbLo":2.55,"djHi":10.55,"djLo":5.35},
      {"t":60,"nbHi":7.8,"nbLo":2.92,"djHi":9.7,"djLo":4.86},
      {"t":65,"nbHi":7.83,"nbLo":3.16,"djHi":9.13,"djLo":4.33},
      {"t":70,"nbHi":7.26,"nbLo":2.83,"djHi":9.32,"djLo":4.45},
      {"t":75,"nbHi":6.98,"nbLo":2.57,"djHi":8.8,"djLo":4.22},
      {"t":80,"nbHi":6.72,"nbLo":2.57,"djHi":8.53,"djLo":4.03},
      {"t":85,"nbHi":6.39,"nbLo":2.38,"djHi":8.28,"djLo":3.81},
      {"t":90,"nbHi":6.23,"nbLo":2.17,"djHi":8.26,"djLo":3.93},
      {"t":95,"nbHi":6.74,"nbLo":2.91,"djHi":7.71,"djLo":3.7},
      {"t":100,"nbHi":8.03,"nbLo":3.96,"djHi":7.22,"djLo":3.13},
      {"t":105,"nbHi":7.79,"nbLo":3.96,"djHi":6.82,"djLo":2.94},
      {"t":110,"nbHi":7.51,"nbLo":3.72,"djHi":6.41,"djLo":2.75},
      {"t":115,"nbHi":7.27,"nbLo":3.62,"djHi":6.06,"djLo":2.54},
      {"t":120,"nbHi":7.14,"nbLo":3.59,"djHi":5.77,"djLo":2.37},
      {"t":125,"nbHi":6.46,"nbLo":3.13,"djHi":5.2,"djLo":2.1},
      {"t":130,"nbHi":6.14,"nbLo":3.02,"djHi":4.85,"djLo":1.89},
      {"t":135,"nbHi":5.72,"nbLo":2.86,"djHi":4.59,"djLo":1.78},
      {"t":140,"nbHi":5.48,"nbLo":2.62,"djHi":4.31,"djLo":1.57},
      {"t":145,"nbHi":5.96,"nbLo":3.46,"djHi":3.78,"djLo":1.37},
      {"t":150,"nbHi":5.96,"nbLo":3.46,"djHi":3.75,"djLo":1.29},
      {"t":155,"nbHi":6.33,"nbLo":4.18,"djHi":3.18,"djLo":1.2},
      {"t":160,"nbHi":5.9,"nbLo":3.91,"djHi":2.78,"djLo":1.05},
      {"t":165,"nbHi":5.28,"nbLo":3.91,"djHi":2.33,"djLo":0.89},
      {"t":170,"nbHi":4.8,"nbLo":3.75,"djHi":1.81,"djLo":0.76},
      {"t":175,"nbHi":4.07,"nbLo":4.07,"djHi":1.03,"djLo":1.0},
      {"t":180,"nbHi":0,"nbLo":0,"djHi":0,"djLo":0}
    ],
    "counts": [
      {"s":"Truth NIALL BROWN: 4","t":0,"v":0},{"s":"Truth NIALL BROWN: 4","t":5,"v":0},{"s":"Truth NIALL BROWN: 4","t":10,"v":0},{"s":"Truth NIALL BROWN: 4","t":15,"v":0},{"s":"Truth NIALL BROWN: 4","t":20,"v":0},{"s":"Truth NIALL BROWN: 4","t":25,"v":0},{"s":"Truth NIALL BROWN: 4","t":30,"v":0},{"s":"Truth NIALL BROWN: 4","t":35,"v":0},{"s":"Truth NIALL BROWN: 4","t":40,"v":0},{"s":"Truth NIALL BROWN: 4","t":45,"v":0},{"s":"Truth NIALL BROWN: 4","t":50,"v":0},{"s":"Truth NIALL BROWN: 4","t":55,"v":0},{"s":"Truth NIALL BROWN: 4","t":60,"v":0},{"s":"Truth NIALL BROWN: 4","t":65,"v":0},{"s":"Truth NIALL BROWN: 4","t":70,"v":0},{"s":"Truth NIALL BROWN: 4","t":75,"v":0},{"s":"Truth NIALL BROWN: 4","t":80,"v":0},{"s":"Truth NIALL BROWN: 4","t":85,"v":0},{"s":"Truth NIALL BROWN: 4","t":90,"v":0},{"s":"Truth NIALL BROWN: 4","t":95,"v":1},{"s":"Truth NIALL BROWN: 4","t":100,"v":2},{"s":"Truth NIALL BROWN: 4","t":105,"v":2},{"s":"Truth NIALL BROWN: 4","t":110,"v":2},{"s":"Truth NIALL BROWN: 4","t":115,"v":2},{"s":"Truth NIALL BROWN: 4","t":120,"v":2},{"s":"Truth NIALL BROWN: 4","t":125,"v":2},{"s":"Truth NIALL BROWN: 4","t":130,"v":2},{"s":"Truth NIALL BROWN: 4","t":135,"v":2},{"s":"Truth NIALL BROWN: 4","t":140,"v":2},{"s":"Truth NIALL BROWN: 4","t":145,"v":3},{"s":"Truth NIALL BROWN: 4","t":150,"v":3},{"s":"Truth NIALL BROWN: 4","t":155,"v":4},{"s":"Truth NIALL BROWN: 4","t":160,"v":4},{"s":"Truth NIALL BROWN: 4","t":165,"v":4},{"s":"Truth NIALL BROWN: 4","t":170,"v":4},{"s":"Truth NIALL BROWN: 4","t":175,"v":4},{"s":"Truth NIALL BROWN: 4","t":180,"v":4},
      {"s":"Truth DARREN JOHNSTONE: 1","t":0,"v":0},{"s":"Truth DARREN JOHNSTONE: 1","t":5,"v":0},{"s":"Truth DARREN JOHNSTONE: 1","t":10,"v":0},{"s":"Truth DARREN JOHNSTONE: 1","t":15,"v":0},{"s":"Truth DARREN JOHNSTONE: 1","t":20,"v":0},{"s":"Truth DARREN JOHNSTONE: 1","t":25,"v":0},{"s":"Truth DARREN JOHNSTONE: 1","t":30,"v":1},{"s":"Truth DARREN JOHNSTONE: 1","t":35,"v":1},{"s":"Truth DARREN JOHNSTONE: 1","t":40,"v":1},{"s":"Truth DARREN JOHNSTONE: 1","t":45,"v":1},{"s":"Truth DARREN JOHNSTONE: 1","t":50,"v":1},{"s":"Truth DARREN JOHNSTONE: 1","t":55,"v":1},{"s":"Truth DARREN JOHNSTONE: 1","t":60,"v":1},{"s":"Truth DARREN JOHNSTONE: 1","t":65,"v":1},{"s":"Truth DARREN JOHNSTONE: 1","t":70,"v":1},{"s":"Truth DARREN JOHNSTONE: 1","t":75,"v":1},{"s":"Truth DARREN JOHNSTONE: 1","t":80,"v":1},{"s":"Truth DARREN JOHNSTONE: 1","t":85,"v":1},{"s":"Truth DARREN JOHNSTONE: 1","t":90,"v":1},{"s":"Truth DARREN JOHNSTONE: 1","t":95,"v":1},{"s":"Truth DARREN JOHNSTONE: 1","t":100,"v":1},{"s":"Truth DARREN JOHNSTONE: 1","t":105,"v":1},{"s":"Truth DARREN JOHNSTONE: 1","t":110,"v":1},{"s":"Truth DARREN JOHNSTONE: 1","t":115,"v":1},{"s":"Truth DARREN JOHNSTONE: 1","t":120,"v":1},{"s":"Truth DARREN JOHNSTONE: 1","t":125,"v":1},{"s":"Truth DARREN JOHNSTONE: 1","t":130,"v":1},{"s":"Truth DARREN JOHNSTONE: 1","t":135,"v":1},{"s":"Truth DARREN JOHNSTONE: 1","t":140,"v":1},{"s":"Truth DARREN JOHNSTONE: 1","t":145,"v":1},{"s":"Truth DARREN JOHNSTONE: 1","t":150,"v":1},{"s":"Truth DARREN JOHNSTONE: 1","t":155,"v":1},{"s":"Truth DARREN JOHNSTONE: 1","t":160,"v":1},{"s":"Truth DARREN JOHNSTONE: 1","t":165,"v":1},{"s":"Truth DARREN JOHNSTONE: 1","t":170,"v":1},{"s":"Truth DARREN JOHNSTONE: 1","t":175,"v":1},{"s":"Truth DARREN JOHNSTONE: 1","t":180,"v":1},
      {"s":"Predicted NIALL BROWN: 10.3","t":0,"v":10.3},{"s":"Predicted NIALL BROWN: 10.3","t":5,"v":4.28},{"s":"Predicted NIALL BROWN: 10.3","t":10,"v":5.56},{"s":"Predicted NIALL BROWN: 10.3","t":15,"v":5.39},{"s":"Predicted NIALL BROWN: 10.3","t":20,"v":5.67},{"s":"Predicted NIALL BROWN: 10.3","t":25,"v":5.51},{"s":"Predicted NIALL BROWN: 10.3","t":30,"v":5.46},{"s":"Predicted NIALL BROWN: 10.3","t":35,"v":5.72},{"s":"Predicted NIALL BROWN: 10.3","t":40,"v":5.42},{"s":"Predicted NIALL BROWN: 10.3","t":45,"v":5.1},{"s":"Predicted NIALL BROWN: 10.3","t":50,"v":4.85},{"s":"Predicted NIALL BROWN: 10.3","t":55,"v":4.8},{"s":"Predicted NIALL BROWN: 10.3","t":60,"v":5.4},{"s":"Predicted NIALL BROWN: 10.3","t":65,"v":5.55},{"s":"Predicted NIALL BROWN: 10.3","t":70,"v":5.08},{"s":"Predicted NIALL BROWN: 10.3","t":75,"v":4.82},{"s":"Predicted NIALL BROWN: 10.3","t":80,"v":4.73},{"s":"Predicted NIALL BROWN: 10.3","t":85,"v":4.5},{"s":"Predicted NIALL BROWN: 10.3","t":90,"v":4.17},{"s":"Predicted NIALL BROWN: 10.3","t":95,"v":4.96},{"s":"Predicted NIALL BROWN: 10.3","t":100,"v":6.04},{"s":"Predicted NIALL BROWN: 10.3","t":105,"v":5.93},{"s":"Predicted NIALL BROWN: 10.3","t":110,"v":5.69},{"s":"Predicted NIALL BROWN: 10.3","t":115,"v":5.48},{"s":"Predicted NIALL BROWN: 10.3","t":120,"v":5.36},{"s":"Predicted NIALL BROWN: 10.3","t":125,"v":4.88},{"s":"Predicted NIALL BROWN: 10.3","t":130,"v":4.67},{"s":"Predicted NIALL BROWN: 10.3","t":135,"v":4.39},{"s":"Predicted NIALL BROWN: 10.3","t":140,"v":4.07},{"s":"Predicted NIALL BROWN: 10.3","t":145,"v":4.75},{"s":"Predicted NIALL BROWN: 10.3","t":150,"v":4.72},{"s":"Predicted NIALL BROWN: 10.3","t":155,"v":5.28},{"s":"Predicted NIALL BROWN: 10.3","t":160,"v":5.01},{"s":"Predicted NIALL BROWN: 10.3","t":165,"v":4.6},{"s":"Predicted NIALL BROWN: 10.3","t":170,"v":4.36},{"s":"Predicted NIALL BROWN: 10.3","t":175,"v":4.07},{"s":"Predicted NIALL BROWN: 10.3","t":180,"v":0},
      {"s":"Predicted DARREN JOHNSTONE: 10.1","t":0,"v":10.1},{"s":"Predicted DARREN JOHNSTONE: 10.1","t":5,"v":6.57},{"s":"Predicted DARREN JOHNSTONE: 10.1","t":10,"v":5.51},{"s":"Predicted DARREN JOHNSTONE: 10.1","t":15,"v":6.94},{"s":"Predicted DARREN JOHNSTONE: 10.1","t":20,"v":6.85},{"s":"Predicted DARREN JOHNSTONE: 10.1","t":25,"v":6.65},{"s":"Predicted DARREN JOHNSTONE: 10.1","t":30,"v":8.69},{"s":"Predicted DARREN JOHNSTONE: 10.1","t":35,"v":8.77},{"s":"Predicted DARREN JOHNSTONE: 10.1","t":40,"v":8.48},{"s":"Predicted DARREN JOHNSTONE: 10.1","t":45,"v":8.77},{"s":"Predicted DARREN JOHNSTONE: 10.1","t":50,"v":8.37},{"s":"Predicted DARREN JOHNSTONE: 10.1","t":55,"v":8.0},{"s":"Predicted DARREN JOHNSTONE: 10.1","t":60,"v":7.3},{"s":"Predicted DARREN JOHNSTONE: 10.1","t":65,"v":6.77},{"s":"Predicted DARREN JOHNSTONE: 10.1","t":70,"v":6.92},{"s":"Predicted DARREN JOHNSTONE: 10.1","t":75,"v":6.57},{"s":"Predicted DARREN JOHNSTONE: 10.1","t":80,"v":6.32},{"s":"Predicted DARREN JOHNSTONE: 10.1","t":85,"v":6.1},{"s":"Predicted DARREN JOHNSTONE: 10.1","t":90,"v":6.11},{"s":"Predicted DARREN JOHNSTONE: 10.1","t":95,"v":5.77},{"s":"Predicted DARREN JOHNSTONE: 10.1","t":100,"v":5.25},{"s":"Predicted DARREN JOHNSTONE: 10.1","t":105,"v":4.96},{"s":"Predicted DARREN JOHNSTONE: 10.1","t":110,"v":4.64},{"s":"Predicted DARREN JOHNSTONE: 10.1","t":115,"v":4.36},{"s":"Predicted DARREN JOHNSTONE: 10.1","t":120,"v":4.1},{"s":"Predicted DARREN JOHNSTONE: 10.1","t":125,"v":3.72},{"s":"Predicted DARREN JOHNSTONE: 10.1","t":130,"v":3.38},{"s":"Predicted DARREN JOHNSTONE: 10.1","t":135,"v":3.18},{"s":"Predicted DARREN JOHNSTONE: 10.1","t":140,"v":2.91},{"s":"Predicted DARREN JOHNSTONE: 10.1","t":145,"v":2.58},{"s":"Predicted DARREN JOHNSTONE: 10.1","t":150,"v":2.5},{"s":"Predicted DARREN JOHNSTONE: 10.1","t":155,"v":2.16},{"s":"Predicted DARREN JOHNSTONE: 10.1","t":160,"v":1.89},{"s":"Predicted DARREN JOHNSTONE: 10.1","t":165,"v":1.62},{"s":"Predicted DARREN JOHNSTONE: 10.1","t":170,"v":1.32},{"s":"Predicted DARREN JOHNSTONE: 10.1","t":175,"v":1.03},{"s":"Predicted DARREN JOHNSTONE: 10.1","t":180,"v":0}
    ]
  },
  "vconcat": [
    {
      "width": 1983,
      "height": 467,
      "title": {"text": "NIALL BROWN — Power Head Strikes Landed R1 Under (Event 16212)"},
      "data": {"name": "probs"},
      "transform": [{"filter": {"field": "p", "equal": "NB"}}],
      "encoding": {
        "x": {"field": "t", "type": "quantitative", "scale": {"domain": [-9, 189], "nice": false, "zero": false},
              "axis": {"values": [0, 25, 50, 75, 100, 125, 150, 175], "labels": false, "title": null, "grid": false}}
      },
      "layer": [
        {
          "mark": {"type": "area", "fillOpacity": 0.1, "strokeWidth": 0},
          "encoding": {
            "y": {"field": "hi", "type": "quantitative", "stack": null, "scale": {"domain": [0, 1.15], "nice": false, "zero": false},
                  "axis": {"values": [0, 0.05, 0.1, 0.15, 0.2, 0.25, 0.3, 0.35, 0.4, 0.45, 0.5, 0.55, 0.6, 0.65, 0.7, 0.75, 0.8, 0.85, 0.9, 0.95, 1.0, 1.05, 1.1, 1.15],
                           "format": ".2f", "title": "Prob", "titleFontSize": 14, "titlePadding": 10, "labelPadding": 8, "grid": true}},
            "y2": {"field": "lo"},
            "color": {"field": "k", "type": "nominal",
                      "scale": {"domain": ["under 4.5", "under 7.5", "under 10.5", "under 13.5", "under 16.5", "under 19.5", "under 22.5"],
                                "range": ["#e6194b", "#3cb44b", "#4363d8", "#f58231", "#911eb4", "#42d4f4", "#f032e6"]},
                      "legend": {"orient": "top-right", "offset": 7, "columns": 4, "columnPadding": 27, "rowPadding": 0,
                                 "labelFontSize": 12, "labelOffset": 8, "symbolType": "stroke", "symbolSize": 400, "symbolStrokeWidth": 2.5, "symbolOpacity": 0.9,
                                 "fillColor": "rgba(255,255,255,0.85)", "strokeColor": "#cccccc", "cornerRadius": 4, "padding": 8}}
          }
        },
        {
          "mark": {"type": "line", "strokeWidth": 1.2, "strokeDash": [1.5, 2.5], "opacity": 0.6},
          "encoding": {
            "y": {"field": "lo", "type": "quantitative",
                  "axis": {"values": [0, 0.05, 0.1, 0.15, 0.2, 0.25, 0.3, 0.35, 0.4, 0.45, 0.5, 0.55, 0.6, 0.65, 0.7, 0.75, 0.8, 0.85, 0.9, 0.95, 1.0, 1.05, 1.1, 1.15],
                           "format": ".2f", "title": "Prob", "titleFontSize": 14, "titlePadding": 10, "labelPadding": 8, "grid": true}},
            "color": {"field": "k", "type": "nominal",
                      "scale": {"domain": ["under 4.5", "under 7.5", "under 10.5", "under 13.5", "under 16.5", "under 19.5", "under 22.5"],
                                "range": ["#e6194b", "#3cb44b", "#4363d8", "#f58231", "#911eb4", "#42d4f4", "#f032e6"]},
                      "legend": {"orient": "top-right", "offset": 7, "columns": 4, "columnPadding": 27, "rowPadding": 0,
                                 "labelFontSize": 12, "labelOffset": 8, "symbolType": "stroke", "symbolSize": 400, "symbolStrokeWidth": 2.5, "symbolOpacity": 0.9,
                                 "fillColor": "rgba(255,255,255,0.85)", "strokeColor": "#cccccc", "cornerRadius": 4, "padding": 8}}
          }
        },
        {
          "mark": {"type": "line", "strokeWidth": 2.4, "opacity": 0.85},
          "encoding": {
            "y": {"field": "hi", "type": "quantitative",
                  "axis": {"values": [0, 0.05, 0.1, 0.15, 0.2, 0.25, 0.3, 0.35, 0.4, 0.45, 0.5, 0.55, 0.6, 0.65, 0.7, 0.75, 0.8, 0.85, 0.9, 0.95, 1.0, 1.05, 1.1, 1.15],
                           "format": ".2f", "title": "Prob", "titleFontSize": 14, "titlePadding": 10, "labelPadding": 8, "grid": true}},
            "color": {"field": "k", "type": "nominal",
                      "scale": {"domain": ["under 4.5", "under 7.5", "under 10.5", "under 13.5", "under 16.5", "under 19.5", "under 22.5"],
                                "range": ["#e6194b", "#3cb44b", "#4363d8", "#f58231", "#911eb4", "#42d4f4", "#f032e6"]},
                      "legend": {"orient": "top-right", "offset": 7, "columns": 4, "columnPadding": 27, "rowPadding": 0,
                                 "labelFontSize": 12, "labelOffset": 8, "symbolType": "stroke", "symbolSize": 400, "symbolStrokeWidth": 2.5, "symbolOpacity": 0.9,
                                 "fillColor": "rgba(255,255,255,0.85)", "strokeColor": "#cccccc", "cornerRadius": 4, "padding": 8}}
          }
        }
      ]
    },
    {
      "width": 1983,
      "height": 467,
      "title": {"text": "DARREN JOHNSTONE — Power Head Strikes Landed R1 Under (Event 16212)"},
      "data": {"name": "probs"},
      "transform": [{"filter": {"field": "p", "equal": "DJ"}}],
      "encoding": {
        "x": {"field": "t", "type": "quantitative", "scale": {"domain": [-9, 189], "nice": false, "zero": false},
              "axis": {"values": [0, 25, 50, 75, 100, 125, 150, 175], "labels": false, "title": null, "grid": false}}
      },
      "layer": [
        {
          "mark": {"type": "area", "fillOpacity": 0.1, "strokeWidth": 0},
          "encoding": {
            "y": {"field": "hi", "type": "quantitative", "stack": null, "scale": {"domain": [0, 1.15], "nice": false, "zero": false},
                  "axis": {"values": [0, 0.05, 0.1, 0.15, 0.2, 0.25, 0.3, 0.35, 0.4, 0.45, 0.5, 0.55, 0.6, 0.65, 0.7, 0.75, 0.8, 0.85, 0.9, 0.95, 1.0, 1.05, 1.1, 1.15],
                           "format": ".2f", "title": "Prob", "titleFontSize": 14, "titlePadding": 10, "labelPadding": 8, "grid": true}},
            "y2": {"field": "lo"},
            "color": {"field": "k", "type": "nominal",
                      "scale": {"domain": ["under 4.5", "under 7.5", "under 10.5", "under 13.5", "under 16.5", "under 19.5", "under 22.5"],
                                "range": ["#e6194b", "#3cb44b", "#4363d8", "#f58231", "#911eb4", "#42d4f4", "#f032e6"]},
                      "legend": {"orient": "top-right", "offset": 7, "columns": 4, "columnPadding": 27, "rowPadding": 0,
                                 "labelFontSize": 12, "labelOffset": 8, "symbolType": "stroke", "symbolSize": 400, "symbolStrokeWidth": 2.5, "symbolOpacity": 0.9,
                                 "fillColor": "rgba(255,255,255,0.85)", "strokeColor": "#cccccc", "cornerRadius": 4, "padding": 8}}
          }
        },
        {
          "mark": {"type": "line", "strokeWidth": 1.2, "strokeDash": [1.5, 2.5], "opacity": 0.6},
          "encoding": {
            "y": {"field": "lo", "type": "quantitative",
                  "axis": {"values": [0, 0.05, 0.1, 0.15, 0.2, 0.25, 0.3, 0.35, 0.4, 0.45, 0.5, 0.55, 0.6, 0.65, 0.7, 0.75, 0.8, 0.85, 0.9, 0.95, 1.0, 1.05, 1.1, 1.15],
                           "format": ".2f", "title": "Prob", "titleFontSize": 14, "titlePadding": 10, "labelPadding": 8, "grid": true}},
            "color": {"field": "k", "type": "nominal",
                      "scale": {"domain": ["under 4.5", "under 7.5", "under 10.5", "under 13.5", "under 16.5", "under 19.5", "under 22.5"],
                                "range": ["#e6194b", "#3cb44b", "#4363d8", "#f58231", "#911eb4", "#42d4f4", "#f032e6"]},
                      "legend": {"orient": "top-right", "offset": 7, "columns": 4, "columnPadding": 27, "rowPadding": 0,
                                 "labelFontSize": 12, "labelOffset": 8, "symbolType": "stroke", "symbolSize": 400, "symbolStrokeWidth": 2.5, "symbolOpacity": 0.9,
                                 "fillColor": "rgba(255,255,255,0.85)", "strokeColor": "#cccccc", "cornerRadius": 4, "padding": 8}}
          }
        },
        {
          "mark": {"type": "line", "strokeWidth": 2.4, "opacity": 0.85},
          "encoding": {
            "y": {"field": "hi", "type": "quantitative",
                  "axis": {"values": [0, 0.05, 0.1, 0.15, 0.2, 0.25, 0.3, 0.35, 0.4, 0.45, 0.5, 0.55, 0.6, 0.65, 0.7, 0.75, 0.8, 0.85, 0.9, 0.95, 1.0, 1.05, 1.1, 1.15],
                           "format": ".2f", "title": "Prob", "titleFontSize": 14, "titlePadding": 10, "labelPadding": 8, "grid": true}},
            "color": {"field": "k", "type": "nominal",
                      "scale": {"domain": ["under 4.5", "under 7.5", "under 10.5", "under 13.5", "under 16.5", "under 19.5", "under 22.5"],
                                "range": ["#e6194b", "#3cb44b", "#4363d8", "#f58231", "#911eb4", "#42d4f4", "#f032e6"]},
                      "legend": {"orient": "top-right", "offset": 7, "columns": 4, "columnPadding": 27, "rowPadding": 0,
                                 "labelFontSize": 12, "labelOffset": 8, "symbolType": "stroke", "symbolSize": 400, "symbolStrokeWidth": 2.5, "symbolOpacity": 0.9,
                                 "fillColor": "rgba(255,255,255,0.85)", "strokeColor": "#cccccc", "cornerRadius": 4, "padding": 8}}
          }
        }
      ]
    },
    {
      "width": 1983,
      "height": 312,
      "encoding": {
        "x": {"field": "t", "type": "quantitative", "scale": {"domain": [-9, 189], "nice": false, "zero": false},
              "axis": {"values": [0, 25, 50, 75, 100, 125, 150, 175], "title": "Round time (seconds)", "titleFontSize": 21,
                       "titlePadding": 11, "labelPadding": 9, "grid": false}}
      },
      "layer": [
        {
          "data": {"name": "bands"},
          "mark": {"type": "area", "color": "#ff0000", "fillOpacity": 0.14, "stroke": "#ff0000", "strokeOpacity": 0.1, "strokeWidth": 1.2},
          "encoding": {
            "y": {"field": "nbHi", "type": "quantitative", "stack": null, "scale": {"domain": [-0.7, 14.4], "nice": false, "zero": false},
                  "axis": {"values": [0, 2, 4, 6, 8, 10, 12, 14], "title": "Count", "titleFontSize": 16, "titlePadding": 10, "labelPadding": 8, "grid": true}},
            "y2": {"field": "nbLo"}
          }
        },
        {
          "data": {"name": "bands"},
          "mark": {"type": "area", "color": "#0000ff", "fillOpacity": 0.13, "stroke": "#0000ff", "strokeOpacity": 0.1, "strokeWidth": 1.2},
          "encoding": {
            "y": {"field": "djHi", "type": "quantitative", "stack": null,
                  "axis": {"values": [0, 2, 4, 6, 8, 10, 12, 14], "title": "Count", "titleFontSize": 16, "titlePadding": 10, "labelPadding": 8, "grid": true}},
            "y2": {"field": "djLo"}
          }
        },
        {
          "data": {"values": [{}]},
          "mark": {"type": "rule", "color": "#e8e8e8", "strokeWidth": 1},
          "encoding": {"y": {"datum": 5, "type": "quantitative",
                  "axis": {"values": [0, 2, 4, 6, 8, 10, 12, 14], "title": "Count", "titleFontSize": 16, "titlePadding": 10, "labelPadding": 8, "grid": true}}}
        },
        {
          "data": {"name": "counts"},
          "mark": {"type": "line", "strokeWidth": 3, "opacity": 0.72},
          "encoding": {
            "y": {"field": "v", "type": "quantitative",
                  "axis": {"values": [0, 2, 4, 6, 8, 10, 12, 14], "title": "Count", "titleFontSize": 16, "titlePadding": 10, "labelPadding": 8, "grid": true}},
            "color": {"field": "s", "type": "nominal",
                      "scale": {"domain": ["Truth NIALL BROWN: 4", "Truth DARREN JOHNSTONE: 1", "Predicted NIALL BROWN: 10.3", "Predicted DARREN JOHNSTONE: 10.1"],
                                "range": ["#ff0000", "#0000ff", "#ff0000", "#0000ff"]},
                      "legend": {"orient": "top-left", "offset": 7, "labelFontSize": 14.5, "labelOffset": 10, "rowPadding": 0,
                                 "symbolType": "stroke", "symbolSize": 484, "symbolStrokeWidth": 3, "labelLimit": 500,
                                 "fillColor": "rgba(255,255,255,0.85)", "strokeColor": "#cccccc", "cornerRadius": 4, "padding": 8}},
            "strokeDash": {"field": "s", "type": "nominal",
                           "scale": {"domain": ["Truth NIALL BROWN: 4", "Truth DARREN JOHNSTONE: 1", "Predicted NIALL BROWN: 10.3", "Predicted DARREN JOHNSTONE: 10.1"],
                                     "range": [[1, 0], [1, 0], [3, 5], [3, 5]]},
                           "legend": {"orient": "top-left", "offset": 7, "labelFontSize": 14.5, "labelOffset": 10, "rowPadding": 0,
                                      "symbolType": "stroke", "symbolSize": 484, "symbolStrokeWidth": 3, "labelLimit": 500,
                                      "fillColor": "rgba(255,255,255,0.85)", "strokeColor": "#cccccc", "cornerRadius": 4, "padding": 8}}
          }
        }
      ]
    }
  ]
}
